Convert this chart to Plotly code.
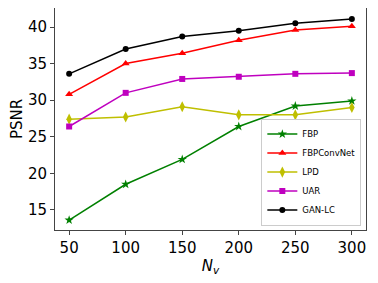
import plotly.graph_objects as go

nv = [50, 100, 150, 200, 250, 300]
fbp = [13.6, 18.5, 21.9, 26.4, 29.2, 29.9]
fbpconvnet = [30.8, 35.0, 36.4, 38.2, 39.6, 40.1]
lpd = [27.4, 27.7, 29.1, 28.0, 28.0, 29.0]
uar = [26.4, 31.0, 32.9, 33.2, 33.6, 33.7]
ganlc = [33.6, 37.0, 38.7, 39.5, 40.5, 41.1]

series = [
    ("FBP", fbp, "#008000", "star", 7),
    ("FBPConvNet", fbpconvnet, "#ff0000", "triangle-up", 7),
    ("LPD", lpd, "#bfbf00", "diamond-tall", 8),
    ("UAR", uar, "#bf00bf", "square", 6),
    ("GAN-LC", ganlc, "#000000", "circle", 6),
]

fig = go.Figure()
for name, vals, color, sym, size in series:
    fig.add_trace(go.Scatter(
        x=nv, y=vals, name=name, mode="lines+markers",
        line=dict(color=color, width=1.5),
        marker=dict(symbol=sym, size=size, color=color),
    ))

font = "DejaVu Sans, sans-serif"
# page body has an 8px default margin, so the figure is sized 8px smaller
fig.update_layout(
    width=370, height=275,
    margin=dict(l=47, r=12, t=0, b=53),
    paper_bgcolor="white", plot_bgcolor="white",
    font=dict(family=font, size=15, color="black"),
    showlegend=True,
    legend=dict(
        x=0.985, y=0.02, xanchor="right", yanchor="bottom",
        font=dict(size=8.5, family=font),
        bordercolor="#cccccc", borderwidth=1, bgcolor="rgba(255,255,255,0.8)",
        tracegroupgap=0, itemwidth=30,
    ),
    xaxis=dict(
        range=[37.5, 312.5], tickvals=nv, ticks="outside", ticklen=4,
        showgrid=False, zeroline=False, showline=True, linecolor="#444",
        mirror=True, linewidth=1, automargin=False,
        title=dict(text="<i>N</i><sub><i>v</i></sub>", font=dict(size=15), standoff=4),
    ),
    yaxis=dict(
        range=[12.25, 42.6], tickvals=[15, 20, 25, 30, 35, 40], ticks="outside", ticklen=4,
        showgrid=False, zeroline=False, showline=True, linecolor="#444",
        mirror=True, linewidth=1, automargin=False,
        title=dict(text="PSNR", font=dict(size=15), standoff=6),
    ),
)

fig.write_html("out.html")
